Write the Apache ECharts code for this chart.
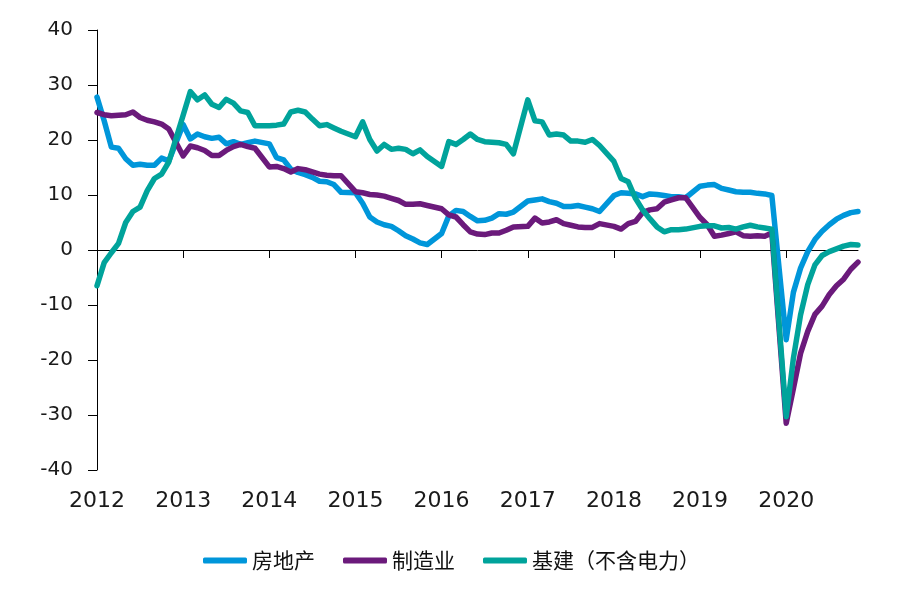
<!DOCTYPE html>
<html><head><meta charset="utf-8">
<script src="https://cdn.jsdelivr.net/npm/echarts@6/dist/echarts.min.js"></script>
<style>html,body{margin:0;padding:0;background:#fff}#c{width:900px;height:590px}</style>
</head><body><div id="c"></div>
<script>
// Years shown on the axis (ticks at each Jan-Feb reading)
const years = [2012, 2013, 2014, 2015, 2016, 2017, 2018, 2019, 2020];
const seriesNames = ['房地产', '制造业', '基建（不含电力）'];
// Cumulative YoY (%), Feb..Dec each year, January slot = null
const realEstate = [
  27.8, 23.5, 18.7, 18.5, 16.6, 15.4, 15.6, 15.4, 15.4, 16.7, 16.2, null,
  22.8, 20.2, 21.1, 20.6, 20.3, 20.5, 19.3, 19.7, 19.2, 19.5, 19.8, null,
  19.3, 16.8, 16.4, 14.7, 14.1, 13.7, 13.2, 12.5, 12.4, 11.9, 10.5, null,
  10.4, 8.5, 6.0, 5.1, 4.6, 4.3, 3.5, 2.6, 2.0, 1.3, 1.0, null,
  3.0, 6.2, 7.2, 7.0, 6.1, 5.3, 5.4, 5.8, 6.6, 6.5, 6.9, null,
  8.9, 9.1, 9.3, 8.8, 8.5, 7.9, 7.9, 8.1, 7.8, 7.5, 7.0, null,
  9.9, 10.4, 10.3, 10.2, 9.7, 10.2, 10.1, 9.9, 9.7, 9.7, 9.5, null,
  11.6, 11.8, 11.9, 11.2, 10.9, 10.6, 10.5, 10.5, 10.3, 10.2, 9.9, null,
  -16.3, -7.7, -3.3, -0.3, 1.9, 3.4, 4.6, 5.6, 6.3, 6.8, 7.0
];
const manufacturing = [
  25.0, 24.6, 24.4, 24.5, 24.6, 25.1, 24.1, 23.6, 23.3, 22.9, 22.0, null,
  17.1, 18.9, 18.6, 18.1, 17.2, 17.2, 18.1, 18.8, 19.2, 18.8, 18.5, null,
  15.1, 15.2, 14.8, 14.2, 14.8, 14.6, 14.2, 13.8, 13.6, 13.5, 13.5, null,
  10.6, 10.4, 10.1, 10.0, 9.8, 9.4, 9.0, 8.3, 8.3, 8.4, 8.1, null,
  7.5, 6.4, 6.0, 4.6, 3.3, 2.9, 2.8, 3.1, 3.1, 3.6, 4.2, null,
  4.3, 5.8, 4.9, 5.1, 5.5, 4.8, 4.5, 4.2, 4.1, 4.1, 4.8, null,
  4.3, 3.8, 4.8, 5.2, 6.8, 7.3, 7.5, 8.7, 9.1, 9.5, 9.5, null,
  5.9, 4.6, 2.5, 2.7, 3.0, 3.3, 2.6, 2.5, 2.6, 2.5, 3.1, null,
  -31.5, -25.2, -18.8, -14.8, -11.7, -10.2, -8.1, -6.5, -5.3, -3.5, -2.2
];
const infrastructure = [
  -6.5, -2.3, -0.5, 1.2, 5.0, 7.0, 7.8, 10.8, 13.0, 13.8, 16.0, null,
  24.5, 28.8, 27.3, 28.2, 26.5, 25.9, 27.4, 26.7, 25.3, 25.0, 22.6, null,
  22.6, 22.7, 22.9, 25.1, 25.4, 25.1, 23.8, 22.6, 22.8, 22.2, 21.6, null,
  20.6, 23.3, 20.1, 18.0, 19.2, 18.3, 18.5, 18.3, 17.5, 18.2, 17.0, null,
  15.2, 19.7, 19.2, 20.1, 21.1, 20.1, 19.7, 19.6, 19.5, 19.2, 17.5, null,
  27.3, 23.5, 23.3, 20.9, 21.1, 20.9, 19.8, 19.8, 19.6, 20.1, 19.0, null,
  16.1, 13.0, 12.4, 9.4, 7.3, 5.7, 4.2, 3.3, 3.7, 3.7, 3.8, null,
  4.3, 4.4, 4.4, 4.0, 4.1, 3.8, 4.2, 4.5, 4.2, 4.0, 3.8, null,
  -30.3, -19.7, -11.8, -6.3, -2.7, -1.0, -0.3, 0.2, 0.7, 1.0, 0.9
];
const colors = ['#0096DA', '#6B1A7B', '#00A39B'];

// monthly categories: Feb..Dec of each year, plus January slot of the next year
const categories = [];
years.forEach((y, i) => {
  for (let m = 2; m <= 12; m++) categories.push(y + '-' + String(m).padStart(2, '0'));
  if (i < years.length - 1) categories.push((y + 1) + '-01');
});

const chart = echarts.init(document.getElementById('c'), null, {renderer: 'canvas'});
const numFont = 'DejaVu Sans';
chart.setOption({
  animation: false,
  backgroundColor: '#ffffff',
  grid: {left: 97, right: 42, top: 30, bottom: 120, containLabel: false},
  legend: {
    data: seriesNames,
    left: 198, top: 545,
    icon: 'roundRect', itemWidth: 44, itemHeight: 6,
    itemGap: 28, itemTextGap: 5,
    textStyle: {fontSize: 21, fontFamily: 'Noto Sans CJK SC', color: '#111'}
  },
  xAxis: [{
    type: 'category', data: categories, boundaryGap: false,
    axisLine: {onZero: true, lineStyle: {color: '#000', width: 1}},
    axisTick: {show: true, length: 8, interval: (i) => i % 12 === 0, lineStyle: {color: '#000'}},
    axisLabel: {show: false},
    splitLine: {show: false}
  }, {
    type: 'category', data: categories, boundaryGap: false, position: 'bottom',
    axisLine: {show: false, onZero: false},
    axisTick: {show: false},
    axisLabel: {
      interval: (i) => i % 12 === 0,
      formatter: (v) => v.slice(0, 4),
      margin: 20, fontSize: 22, fontFamily: numFont, color: '#1a1a1a'
    },
    splitLine: {show: false}
  }],
  yAxis: {
    type: 'value', min: -40, max: 40, interval: 10,
    axisLine: {show: true, lineStyle: {color: '#000', width: 1}},
    axisTick: {show: true, length: 9, lineStyle: {color: '#000'}},
    axisLabel: {fontSize: 20, fontFamily: numFont, color: '#1a1a1a', margin: 24},
    splitLine: {show: false}
  },
  series: [
    {name: seriesNames[0], data: realEstate, color: colors[0]},
    {name: seriesNames[1], data: manufacturing, color: colors[1]},
    {name: seriesNames[2], data: infrastructure, color: colors[2]}
  ].map(s => ({
    type: 'line', xAxisIndex: 0, name: s.name, data: s.data,
    symbol: 'none', connectNulls: true,
    itemStyle: {color: s.color},
    lineStyle: {color: s.color, width: 5.5, join: 'round', cap: 'round'}
  }))
});
</script>
</body></html>
